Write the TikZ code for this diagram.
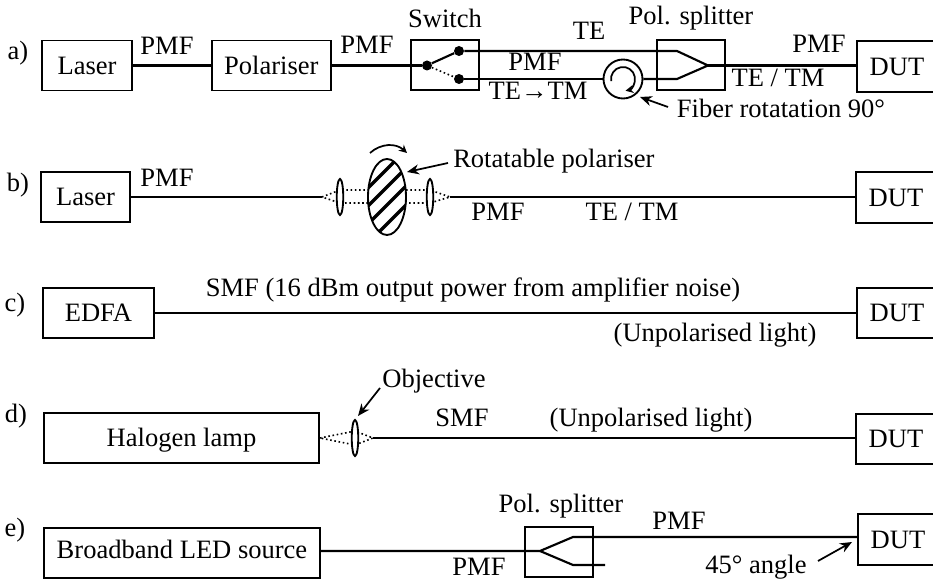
\documentclass[tikz,border=0pt]{standalone}
\usepackage{fontspec}
\setmainfont{Liberation Serif}
\usepackage{tikz}
\usetikzlibrary{shapes.geometric, arrows.meta, positioning, calc}
\newcommand{\pxu}{0.75pt}

\begin{document}
\begin{tikzpicture}[
    x=0.75pt, y=-0.75pt,
    every node/.style={font=\fontsize{19.9}{24}\selectfont},
    block/.style={draw, line width=1.4pt, fill=white, inner sep=0pt, minimum height=50*\pxu,
                text height=13pt, text depth=0pt, align=center},
    fibre/.style={line width=1.6pt},
    tag/.style={anchor=base, inner sep=0pt},
    pointer/.style={-{Stealth[length=9pt, width=7.5pt]}, line width=1.3pt},
    dot/.style={circle, fill=black, inner sep=0pt, minimum size=10*\pxu},
    lens/.style={ellipse, draw, line width=1.4pt, fill=white, inner sep=0pt, minimum width=6.5*\pxu, minimum height=36*\pxu},
    beam/.style={dotted, line width=1.2pt}
]
\useasboundingbox (0,0) rectangle (933,580);
\clip (0,0) rectangle (933,580);

% a)
\node[tag] (la) at (18,60) {a)};
\node[block, minimum width=90*\pxu] (lasera) at (87,65.5) {Laser};
\node[block, minimum width=119*\pxu, right=78*\pxu of lasera] (polariser) {Polariser};
\node[block, minimum width=68*\pxu] (switch) at (445,65) {};
\node[block, minimum width=68*\pxu] (splita) at (691,65) {};
\node[block, minimum width=80*\pxu, minimum height=51*\pxu] (duta) at (897,66.5) {DUT};
\node[dot] (swin) at (427,65.5) {};
\node[dot] (swup) at (459,51) {};
\node[dot] (swdn) at (459,79) {};
\coordinate (sa1) at (677,51);
\coordinate (sa2) at (708,65.5);
\coordinate (sa3) at (677,79);
\node[circle, draw, line width=1.4pt, inner sep=0pt, minimum size=39*\pxu] (rotator) at (623,79) {};
\draw[fibre] (lasera) -- (polariser);
\draw[fibre] (polariser) -- (swin);
\draw[fibre] (swin) -- (swup);
\draw[beam] (swin) -- (swdn);
\draw[fibre] (swup) -- (sa1) -- (sa2) -- (sa3) -- (rotator);
\draw[fibre] (swdn) -- (rotator);
\draw[fibre] (sa2) -- (sa2 -| duta.west);
\draw[-{Stealth[length=6pt, width=6pt]}, line width=1.3pt] ($(rotator)+(170:12)$) arc[start angle=170, end angle=438, radius=12];
\node[tag] (pmfa1) at (167,55) {PMF};
\node[tag] (pmfa2) at (367,54) {PMF};
\node[tag] (swlabel) at (445,28) {Switch};
\node[tag] (te) at (589,40) {TE};
\node[tag] (spla) at (691,25) {Pol. splitter};
\node[tag] (pmfa3) at (535,71) {PMF};
\node[tag] (tetm) at (538,100) {TE→TM};
\node[tag] (fibrot) at (781,118) {Fiber rotatation 90°};
\node[tag] (tetma) at (778,87) {TE / TM};
\node[tag] (pmfa4) at (819,53) {PMF};
\coordinate (fibtail) at (668,107);
\draw[pointer] (fibtail) -- (640,97);

% b)
\node[tag] (lb) at (18,192) {b)};
\node[block, minimum width=89*\pxu] (laserb) at (85.5,197) {Laser};
\node[block, minimum width=80*\pxu, minimum height=51*\pxu] (dutb) at (896,197.5) {DUT};
\coordinate (fibl) at (322,197);
\coordinate (fibr) at (450,197);
\draw[beam] (fibl) -- (340,190) -- (430,190) -- (fibr) -- (430,203) -- (340,203) -- cycle;
\node[lens] (lensl) at (340,197) {};
\node[lens] (lensr) at (430,197) {};
\node[ellipse, draw, line width=1.4pt, inner sep=0pt, minimum width=38*\pxu, minimum height=76*\pxu, fill=white,
    path picture={\foreach \d in {-46,-28,-10,8,27,45}
        \draw[line width=2.6pt, shift={(path picture bounding box.center)}] (-30,\d+30) -- (30,\d-30);}] (rotpol) at (387,197) {};
\draw[fibre] (laserb) -- (fibl);
\draw[fibre] (fibr) -- (fibr -| dutb.west);
\node[tag, anchor=base west] (rotlabel) at (453,168) {Rotatable polariser};
\coordinate (rottail) at (448,163);
\coordinate (rottip) at (407,172);
\draw[pointer] (rottail) -- (rottip);
\coordinate (turna) at (370,153);
\coordinate (turnb) at (407,153);
\draw[-{Stealth[length=6pt, width=6pt]}, line width=1.3pt] (turna) .. controls (381,143) and (396,143) .. (turnb);
\node[tag] (pmfb1) at (167,187) {PMF};
\node[tag] (pmfb2) at (498,221) {PMF};
\node[tag] (tetmb) at (632,221) {TE / TM};

% c)
\node[tag] (lc) at (15,312) {c)};
\node[block, minimum width=111*\pxu] (edfa) at (98.5,313) {EDFA};
\node[block, minimum width=80*\pxu] (dutc) at (897,313) {DUT};
\draw[fibre] (edfa) -- (dutc);
\node[tag] (smfc) at (473,297) {SMF (16 dBm output power from amplifier noise)};
\node[tag] (unpolc) at (715,342) {(Unpolarised light)};

% d)
\node[tag] (ld) at (16,423) {d)};
\node[block, minimum width=275*\pxu] (halogen) at (181.5,438) {Halogen lamp};
\node[block, minimum width=80*\pxu] (dutd) at (896,439) {DUT};
\coordinate (fibd) at (373,438);
\draw[beam] (halogen.east) -- (355,431) -- (fibd) -- (355,445) -- cycle;
\node[lens] (lensd) at (355,438) {};
\draw[fibre] (fibd) -- (fibd -| dutd.west);
\node[tag] (objlabel) at (434,388) {Objective};
\coordinate (objtail) at (380,388);
\draw[pointer] (objtail) -- (358,416);
\node[tag] (smfd) at (462,427) {SMF};
\node[tag] (unpold) at (651,427) {(Unpolarised light)};

% e)
\node[tag] (le) at (15,537) {e)};
\node[block, minimum width=276*\pxu, text depth=4pt] (led) at (182,553) {Broadband LED source};
\node[block, minimum width=68*\pxu] (splite) at (559,552) {};
\node[block, minimum width=80*\pxu, minimum height=51*\pxu] (dute) at (898,539.5) {DUT};
\coordinate (se0) at (540,551);
\coordinate (se1) at (573,537);
\coordinate (se2) at (573,565);
\coordinate (se3) at (605,565);
\draw[fibre] (led.east |- se0) -- (se0) -- (se1) -- (se1 -| dute.west);
\draw[fibre] (se0) -- (se2) -- (se3);
\node[tag] (sple) at (561,513) {Pol. splitter};
\node[tag] (pmfe1) at (679,530) {PMF};
\node[tag] (pmfe2) at (479,575.5) {PMF};
\node[tag] (angle) at (756,574) {45° angle};
\coordinate (angtail) at (818,561);
\draw[pointer] (angtail) -- (852,542);
\end{tikzpicture}
\end{document}
